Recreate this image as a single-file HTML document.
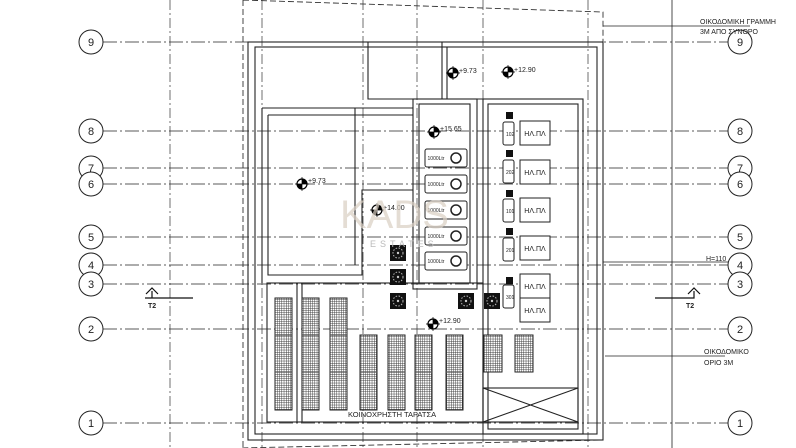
<!DOCTYPE html>
<html><head><meta charset="utf-8"><style>
html,body{margin:0;padding:0;background:#fff}
svg{display:block}
text{font-family:"Liberation Sans",sans-serif;fill:#222}
</style></head><body>
<svg width="796" height="448" viewBox="0 0 796 448" xmlns="http://www.w3.org/2000/svg">
<defs>
<pattern id="grid" width="2.2" height="2.2" patternUnits="userSpaceOnUse"><rect width="2.2" height="2.2" fill="#fff"/><path d="M0 0H2.2M0 0V2.2" stroke="#333" stroke-width="0.9"/></pattern>
<g id="fan"><rect x="-8" y="-8" width="16" height="16" fill="#111"/><circle r="5" fill="none" stroke="#bbb" stroke-width="1" stroke-dasharray="1.5 1.5"/><circle r="1.2" fill="#ccc"/></g>
<g id="lvl"><circle r="5" fill="#fff" stroke="#000" stroke-width="1.2"/><path d="M0 -5A5 5 0 0 1 5 0H0ZM0 5A5 5 0 0 1 -5 0H0Z" fill="#000"/><path d="M-7 0H7M0 -7V7" stroke="#000" stroke-width="0.7"/></g>
</defs>
<g fill="none" stroke="#222" stroke-width="0.8" stroke-dasharray="14 3 2 3">
<path d="M103 42H728M103 131H728M103 168H728M103 184H728M103 237H728M103 265H728M103 284H728M103 329H728M103 423H728"/>
</g>
<g fill="none" stroke="#333" stroke-width="0.7" stroke-dasharray="10 3 2 3">
<path d="M170 0V448M262 0V448M363 0V448M417 0V448M483 0V448M588 0V448"/>
</g>
<g fill="none" stroke="#333" stroke-width="0.9" stroke-dasharray="6 3">
<path d="M243 0L603 12V440L240 448M243 0V448"/>
</g>
<path d="M672 0V448M603 26H750M605 356H725M603 262H740" stroke="#222" stroke-width="0.8" fill="none"/>
<g fill="#fff" stroke="#222" stroke-width="1">
<circle cx="91" cy="42" r="12"/><circle cx="91" cy="131" r="12"/><circle cx="91" cy="168" r="12"/><circle cx="91" cy="184" r="12"/><circle cx="91" cy="237" r="12"/><circle cx="91" cy="265" r="12"/><circle cx="91" cy="284" r="12"/><circle cx="91" cy="329" r="12"/><circle cx="91" cy="423" r="12"/>
<circle cx="740" cy="42" r="12"/><circle cx="740" cy="131" r="12"/><circle cx="740" cy="168" r="12"/><circle cx="740" cy="184" r="12"/><circle cx="740" cy="237" r="12"/><circle cx="740" cy="265" r="12"/><circle cx="740" cy="284" r="12"/><circle cx="740" cy="329" r="12"/><circle cx="740" cy="423" r="12"/>
</g>
<g font-size="11" text-anchor="middle">
<text x="91" y="46">9</text><text x="91" y="135">8</text><text x="91" y="172">7</text><text x="91" y="188">6</text><text x="91" y="241">5</text><text x="91" y="269">4</text><text x="91" y="288">3</text><text x="91" y="333">2</text><text x="91" y="427">1</text>
<text x="740" y="46">9</text><text x="740" y="135">8</text><text x="740" y="172">7</text><text x="740" y="188">6</text><text x="740" y="241">5</text><text x="740" y="269">4</text><text x="740" y="288">3</text><text x="740" y="333">2</text><text x="740" y="427">1</text>
</g>
<g fill="none" stroke="#222" stroke-width="1.1">
<rect x="248" y="42" width="355" height="398"/>
<rect x="255" y="47" width="342" height="387"/>
<path d="M368 42V99H583"/><path d="M447 47V99"/><path d="M442 42V99"/>
<path d="M262 108H413M268 115H413M262 108V283M268 115V275H362V190H413"/>
<path d="M355 108V265"/>
<rect x="413" y="99" width="64" height="190"/><rect x="419" y="104" width="51" height="179"/>
<rect x="483" y="99" width="100" height="335"/><rect x="488" y="104" width="90" height="325"/>
<rect x="267" y="283" width="216" height="139"/>
<path d="M297 283V422M302 283V422"/>
<rect x="483" y="388" width="95" height="34"/><path d="M483 388L578 422M578 388L483 422"/>
</g>
<g fill="#fff" stroke="#222" stroke-width="1">
<rect x="425" y="149" width="42" height="18" rx="2"/><rect x="425" y="175" width="42" height="18" rx="2"/><rect x="425" y="201" width="42" height="18" rx="2"/><rect x="425" y="227" width="42" height="18" rx="2"/><rect x="425" y="252" width="42" height="18" rx="2"/>
<circle cx="456" cy="158" r="5" stroke-width="1.5"/><circle cx="456" cy="184" r="5" stroke-width="1.5"/><circle cx="456" cy="210" r="5" stroke-width="1.5"/><circle cx="456" cy="236" r="5" stroke-width="1.5"/><circle cx="456" cy="261" r="5" stroke-width="1.5"/>
<rect x="520" y="121" width="30" height="24"/><rect x="520" y="160" width="30" height="24"/><rect x="520" y="198" width="30" height="24"/><rect x="520" y="236" width="30" height="24"/><rect x="520" y="274" width="30" height="24"/><rect x="520" y="298" width="30" height="24"/>
<rect x="503" y="122" width="11" height="23" rx="2"/><rect x="503" y="160" width="11" height="23" rx="2"/><rect x="503" y="199" width="11" height="23" rx="2"/><rect x="503" y="238" width="11" height="23" rx="2"/><rect x="503" y="285" width="11" height="23" rx="2"/>
</g>
<g fill="#111"><rect x="506" y="112" width="7" height="7"/><rect x="506" y="150" width="7" height="7"/><rect x="506" y="190" width="7" height="7"/><rect x="506" y="228" width="7" height="7"/><rect x="506" y="277" width="7" height="7"/></g>
<g font-size="5" text-anchor="middle">
<text x="436" y="160">1000Ltr</text><text x="436" y="186">1000Ltr</text><text x="436" y="212">1000Ltr</text><text x="436" y="238">1000Ltr</text><text x="436" y="263">1000Ltr</text>
</g>
<g font-size="7" text-anchor="middle"><text x="535" y="136">ΗΛ.ΠΛ</text><text x="535" y="175">ΗΛ.ΠΛ</text><text x="535" y="213">ΗΛ.ΠΛ</text><text x="535" y="251">ΗΛ.ΠΛ</text><text x="535" y="289">ΗΛ.ΠΛ</text><text x="535" y="313">ΗΛ.ΠΛ</text></g>
<g font-size="5"><text x="506" y="136">102</text><text x="506" y="174">202</text><text x="506" y="213">101</text><text x="506" y="252">201</text><text x="506" y="299">301</text></g>
<g fill="url(#grid)" stroke="#222" stroke-width="1">
<rect x="275" y="298" width="17" height="112"/><rect x="302" y="298" width="17" height="112"/><rect x="330" y="298" width="17" height="112"/>
<rect x="360" y="335" width="17" height="75"/><rect x="388" y="335" width="17" height="75"/><rect x="415" y="335" width="17" height="75"/><rect x="446" y="335" width="17" height="75"/>
<rect x="484" y="335" width="18" height="37"/><rect x="515" y="335" width="18" height="37"/>
</g>
<g stroke="#555" stroke-width="1.2"><path d="M275 335H292M302 335H319M330 335H347M275 372H292M302 372H319M330 372H347M360 372H377M388 372H405M415 372H432M446 372H463"/></g>
<use href="#fan" x="398" y="253"/><use href="#fan" x="398" y="277"/><use href="#fan" x="398" y="301"/><use href="#fan" x="466" y="301"/><use href="#fan" x="492" y="301"/>
<use href="#lvl" x="453" y="73"/><use href="#lvl" x="508" y="72"/><use href="#lvl" x="434" y="132"/><use href="#lvl" x="302" y="184"/><use href="#lvl" x="377" y="210"/><use href="#lvl" x="433" y="324"/>
<g font-size="7"><text x="459" y="73">+9.73</text><text x="514" y="72">+12.90</text><text x="440" y="131">+15.65</text><text x="308" y="183">+9.73</text><text x="383" y="210">+14.00</text><text x="439" y="323">+12.90</text></g>
<text x="348" y="417" font-size="7.5">ΚΟΙΝΟΧΡΗΣΤΗ ΤΑΡΑΤΣΑ</text>
<g font-size="7"><text x="700" y="24">ΟΙΚΟΔΟΜΙΚΗ ΓΡΑΜΜΗ</text><text x="700" y="34">3Μ ΑΠΟ ΣΥΝΟΡΟ</text><text x="704" y="354">ΟΙΚΟΔΟΜΙΚΟ</text><text x="704" y="365">ΟΡΙΟ 3Μ</text><text x="706" y="261">H=110</text></g>
<g stroke="#111" stroke-width="1.2" fill="none"><path d="M655 298H694V291M688 294L694 288L700 294"/><path d="M145 298H193M152 298V291M146 294L152 288L158 294"/></g>
<g font-size="7" font-weight="bold"><text x="686" y="308">T2</text><text x="148" y="308">T2</text></g>
<text x="340" y="228" font-size="40" style="fill:#d9cfc3" opacity="0.7">KADS</text>
<text x="370" y="247" font-size="9" style="fill:#bbb" letter-spacing="4">ESTATES</text>
</svg>
</body></html>
